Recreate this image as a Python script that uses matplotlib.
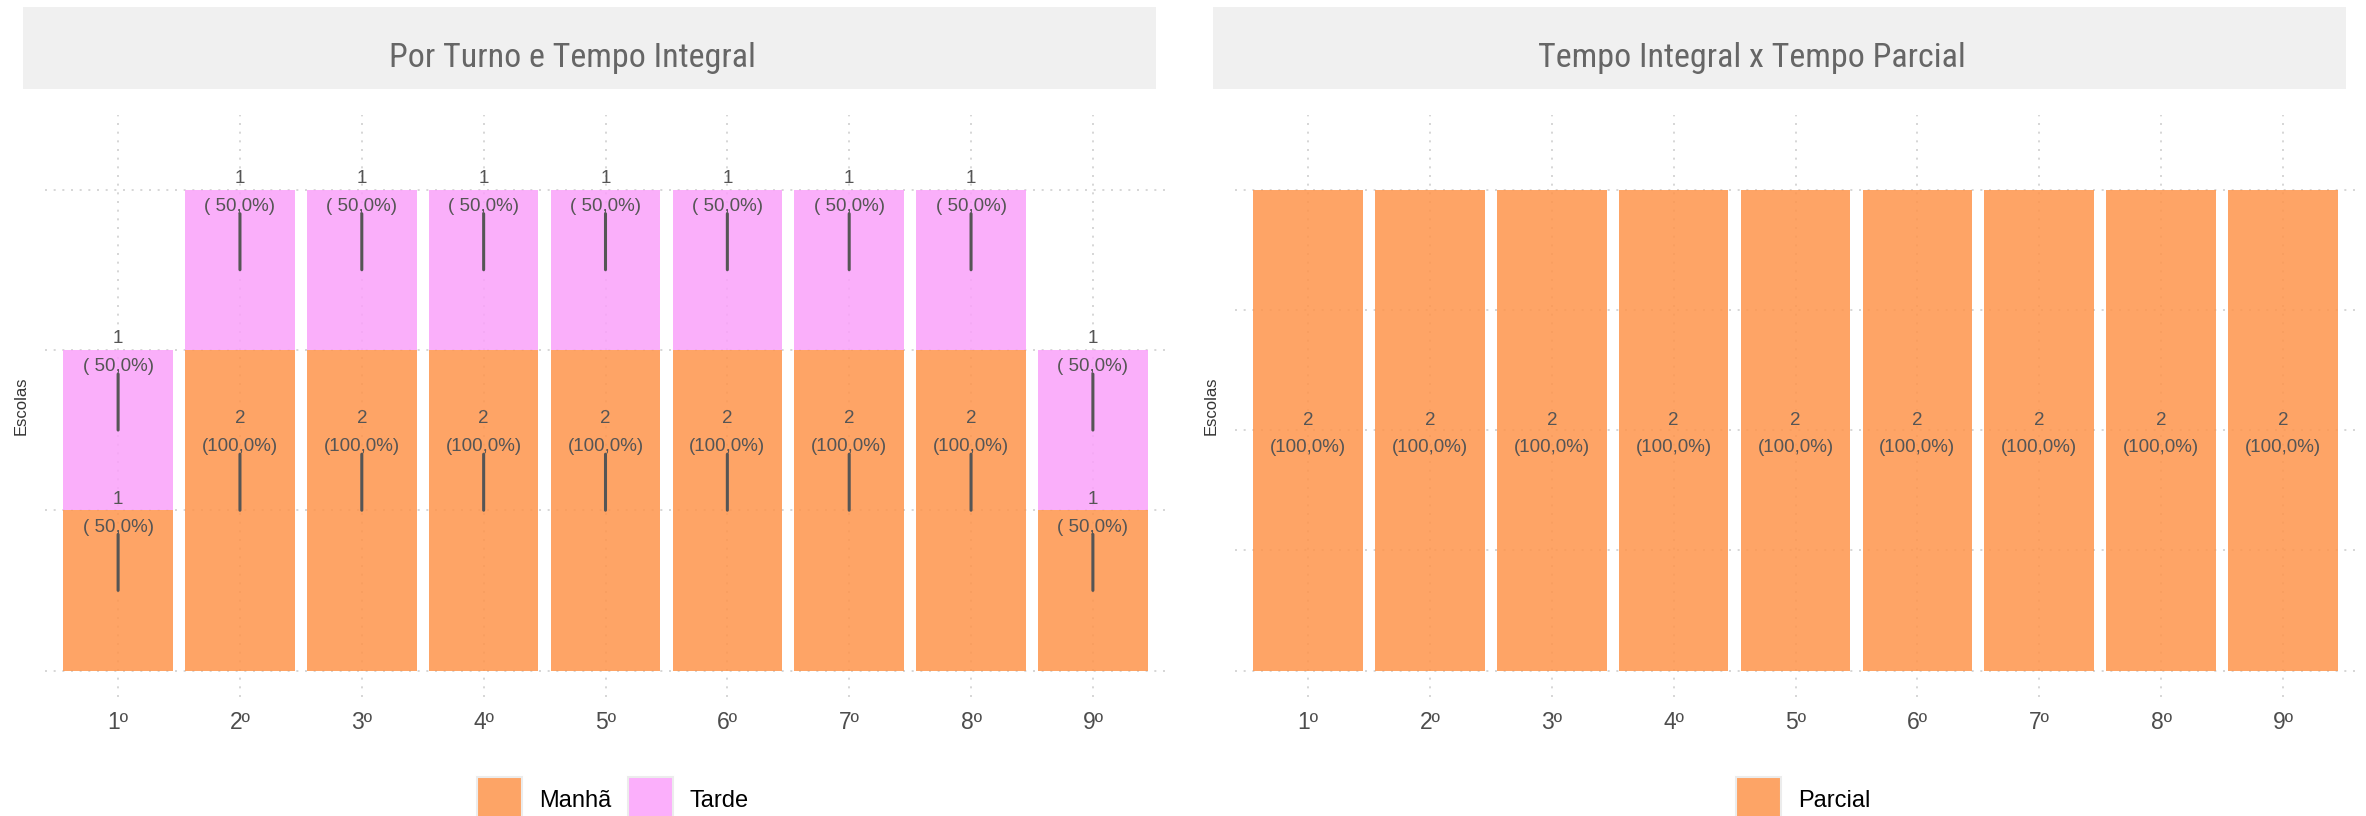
import numpy as np
import matplotlib.pyplot as plt
from matplotlib.patches import Patch, Rectangle

plt.rcParams['font.family'] = ['Liberation Sans', 'DejaVu Sans']

# dados
series = ['1º', '2º', '3º', '4º', '5º', '6º', '7º', '8º', '9º']
manha = [1, 2, 2, 2, 2, 2, 2, 2, 1]
manha_pct = [50.0, 100.0, 100.0, 100.0, 100.0, 100.0, 100.0, 100.0, 50.0]
tarde = [1, 1, 1, 1, 1, 1, 1, 1, 1]
tarde_pct = [50.0, 50.0, 50.0, 50.0, 50.0, 50.0, 50.0, 50.0, 50.0]
parcial = [2, 2, 2, 2, 2, 2, 2, 2, 2]
parcial_pct = [100.0, 100.0, 100.0, 100.0, 100.0, 100.0, 100.0, 100.0, 100.0]

titles = ['Por Turno e Tempo Integral', 'Tempo Integral x Tempo Parcial']

ORANGE = (254 / 255, 148 / 255, 75 / 255)
PINK = (250 / 255, 161 / 255, 250 / 255)
ALPHA = 0.85
ORANGE_KEY = '#fda466'
PINK_KEY = '#fbaffb'
TXT = '#555555'
W, H = 2366, 816


def fmt_pct(p):
    return f'({p:5.1f}%)'.replace('.', ',')


def style_axis(ax, ymax, yticks):
    n = len(series)
    ax.set_xlim(0.4, n + 0.6)
    ax.set_ylim(-0.05 * ymax, ymax * 1.05)
    ax.set_xticks(range(1, n + 1), series)
    ax.set_yticks(yticks)
    ax.set_yticklabels([])
    ax.tick_params(length=0, pad=10)
    ax.tick_params(axis='x', labelsize=16.5, labelcolor='#4d4d4d')
    for s in ax.spines.values():
        s.set_visible(False)
    ax.grid(True, color='#d0d0d0', lw=1.2, linestyle=(0, (1.2, 4)))
    ax.set_axisbelow(True)
    ax.set_ylabel('Escolas', fontsize=12, color='#333333', va='center')
    ax.yaxis.set_label_coords(-24 / 1121, 0.5)


def seg_labels(ax, x, bottom, vals, pcts, with_line):
    for xi, b, v, p in zip(x, bottom, vals, pcts):
        mid = b + v / 2
        if with_line:
            ax.annotate(str(v), xy=(xi, mid), xytext=(0, 62.5), textcoords='offset points',
                        ha='center', va='baseline', fontsize=13.5, color=TXT)
            ax.annotate(fmt_pct(p), xy=(xi, mid), xytext=(0, 42.3), textcoords='offset points',
                        ha='center', va='baseline', fontsize=13.5, color=TXT)
            ax.annotate('', xy=(xi, mid), xytext=(0, 40.3), textcoords='offset points',
                        arrowprops=dict(arrowstyle='-', color=TXT, lw=2.2, shrinkA=0, shrinkB=0))
        else:
            ax.annotate(str(v), xy=(xi, mid), xytext=(0, 3.8), textcoords='offset points',
                        ha='center', va='baseline', fontsize=13.5, color=TXT)
            ax.annotate(fmt_pct(p), xy=(xi, mid), xytext=(0, -15.8), textcoords='offset points',
                        ha='center', va='baseline', fontsize=13.5, color=TXT)


fig = plt.figure(figsize=(W / 100, H / 100), dpi=100)
ax1 = fig.add_axes([45 / W, (H - 697) / H, 1121 / W, 582 / H])
ax2 = fig.add_axes([1235 / W, (H - 697) / H, 1121 / W, 582 / H])

x = np.arange(1, len(series) + 1)

# painel esquerdo
ax1.bar(x, manha, width=0.9, color=ORANGE, alpha=ALPHA)
ax1.bar(x, tarde, width=0.9, bottom=manha, color=PINK, alpha=ALPHA)
style_axis(ax1, 3.3, [0, 1, 2, 3])
seg_labels(ax1, x, [0] * len(x), manha, manha_pct, True)
seg_labels(ax1, x, manha, tarde, tarde_pct, True)

# painel direito
ax2.bar(x, parcial, width=0.9, color=ORANGE, alpha=ALPHA)
style_axis(ax2, 2.2, [0, 0.5, 1, 1.5, 2])
seg_labels(ax2, x, [0] * len(x), parcial, parcial_pct, False)

# faixas de titulo
for x0, tx, t in zip([23, 1213], [572, 1752], titles):
    fig.patches.append(Rectangle((x0 / W, (H - 89) / H), 1133 / W, 82 / H,
                                 transform=fig.transFigure, facecolor='#f0f0f0',
                                 edgecolor='none', zorder=0))
    fig.text(tx / W, (H - 67) / H, t, ha='center', va='baseline',
             fontsize=24.5, color='#666666', fontstretch='condensed',
             family=['Roboto Condensed', 'Liberation Sans Narrow', 'DejaVu Sans'])

# legendas
leg_kw = dict(loc='upper center', ncol=2, frameon=False, fontsize=17, borderpad=0,
              handlelength=1.9, handleheight=2.6, handletextpad=0.72, columnspacing=0.72,
              labelcolor='black', bbox_transform=fig.transFigure)
fig.legend([Patch(facecolor=ORANGE_KEY, edgecolor='#ececec', lw=1.5),
            Patch(facecolor=PINK_KEY, edgecolor='#ececec', lw=1.5)],
           ['Manhã', 'Tarde'], bbox_to_anchor=(613 / W, (H - 765) / H), **leg_kw)
fig.legend([Patch(facecolor=ORANGE_KEY, edgecolor='#ececec', lw=1.5)],
           ['Parcial'], bbox_to_anchor=(1803 / W, (H - 765) / H), **leg_kw)

fig.savefig('out.png', dpi=100)
